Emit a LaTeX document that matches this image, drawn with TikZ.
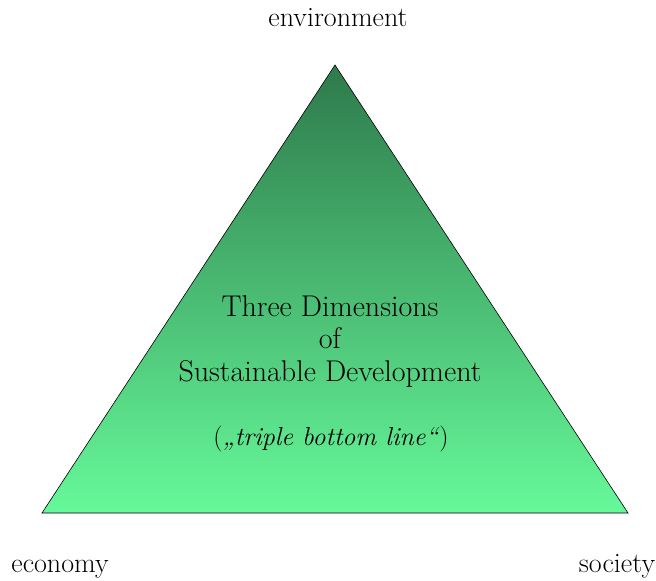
\documentclass[tikz,border=0pt]{standalone}
\usepackage{tikz}
\usetikzlibrary{positioning}

\definecolor{pyrtop}{HTML}{2E7A4B}
\definecolor{pyrmid}{HTML}{50C079}
\definecolor{pyrbottom}{HTML}{66F99A}

\tikzset{
  cornerlabel/.style={font=\fontsize{28}{32}\selectfont, inner sep=0pt, anchor=base},
  titletext/.style={font=\fontsize{30}{32.5}\selectfont, align=center, inner sep=0pt, anchor=base},
}

\begin{document}
\begin{tikzpicture}[x=1pt,y=-1pt]
          \useasboundingbox (0,0) rectangle (656,581);
          \coordinate (apex) at (335,65);
          \coordinate (baseL) at (42,513);
          \coordinate (baseR) at (628,513);

          % the pyramid
          \shade[top color=pyrtop,middle color=pyrmid,bottom color=pyrbottom,draw=black,line width=0.6pt]
            (apex) -- (baseL) -- (baseR) -- cycle;

          % corners
          \node[cornerlabel] (env) at (338,26) {environment};
          \node[cornerlabel] (eco) at (60,572) {economy};
          \node[cornerlabel] (soc) at (617,572) {society};

          % title
          \node[titletext] (title) at (330,381) {Three Dimensions\\of\\Sustainable Development};
          \node[titletext, font=\fontsize{26}{30}\selectfont] (tbl) at (331,445) {(\textit{„triple bottom line“})};
        \end{tikzpicture}
\end{document}
